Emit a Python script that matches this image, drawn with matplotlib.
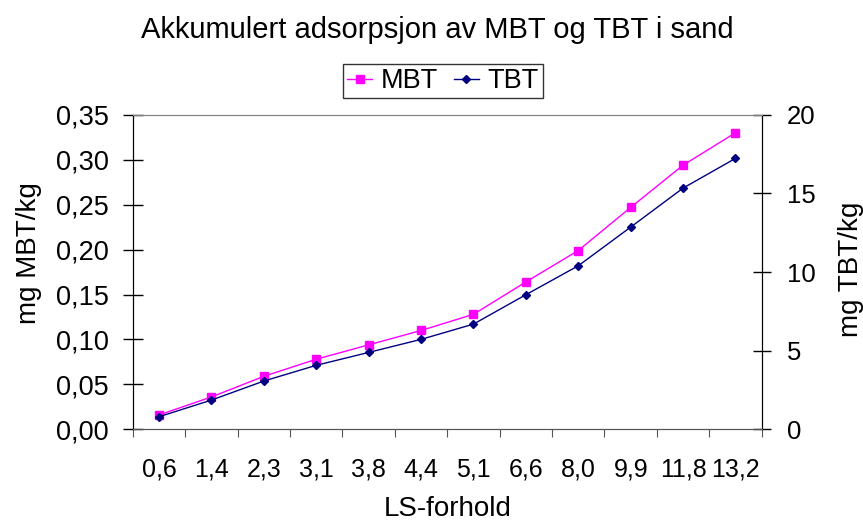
import numpy as np
import matplotlib.pyplot as plt
from matplotlib.ticker import FuncFormatter, FixedLocator

plt.rcParams['font.family'] = ['Liberation Sans', 'DejaVu Sans']

# data
ls_labels = ['0,6', '1,4', '2,3', '3,1', '3,8', '4,4', '5,1', '6,6', '8,0', '9,9', '11,8', '13,2']
mbt = [0.016, 0.036, 0.059, 0.078, 0.094, 0.110, 0.128, 0.164, 0.199, 0.247, 0.294, 0.330]
tbt = [0.80, 1.86, 3.07, 4.07, 4.89, 5.72, 6.69, 8.56, 10.40, 12.86, 15.34, 17.23]

x = np.arange(len(ls_labels))

fig = plt.figure(figsize=(8.63, 5.22), dpi=100)
ax = fig.add_axes([0.154, 0.1776, 0.7286, 0.6024])
ax2 = ax.twinx()

l1, = ax.plot(x, mbt, color='#ff00ff', marker='s', markersize=6, linewidth=1.0, label='MBT')
l2, = ax2.plot(x, tbt, color='#000080', marker='D', markersize=4, linewidth=1.0, label='TBT')

ax.set_xlim(-0.5, len(x) - 0.5)
ax.set_ylim(0, 0.35)
ax2.set_ylim(0, 20)

ax.yaxis.set_major_locator(FixedLocator(np.arange(0, 0.351, 0.05)))
ax.yaxis.set_major_formatter(FuncFormatter(lambda v, p: ('%.2f' % v).replace('.', ',')))
ax2.yaxis.set_major_locator(FixedLocator([0, 5, 10, 15, 20]))

# x ticks between categories, labels in the middle
ax.set_xticks(np.arange(-0.5, len(x), 1.0))
ax.set_xticklabels([])
ax.set_xticks(x, minor=True)
ax.set_xticklabels(ls_labels, minor=True)
ax.tick_params(axis='x', which='major', direction='out', length=6, color='#555555')
ax.tick_params(axis='x', which='minor', length=0, pad=20, labelsize=18)

ax.tick_params(axis='y', direction='inout', length=14, width=1, labelsize=19.5, pad=10.5)
ax2.tick_params(axis='y', direction='inout', length=13, width=1, labelsize=18.5, pad=11.5)

for a in (ax, ax2):
    a.spines['top'].set_color('#808080')
    a.spines['left'].set_color('black')
    a.spines['right'].set_color('black')
    a.spines['bottom'].set_color('#555555')

ax.set_ylabel('mg MBT/kg', fontsize=20)
ax.yaxis.set_label_coords(-0.145, 0.56)
ax2.set_ylabel('mg TBT/kg', fontsize=20)
ax2.yaxis.set_label_coords(1.121, 0.51)
ax.set_xlabel('LS-forhold', fontsize=20, labelpad=11)

fig.text(0.507, 0.9266, 'Akkumulert adsorpsjon av MBT og TBT i sand', ha='center', va='baseline', fontsize=21)

leg = fig.legend([l1, l2], ['MBT', 'TBT'], loc='center', bbox_to_anchor=(0.513, 0.844), ncol=2,
                 fontsize=19.5, frameon=True, fancybox=False, edgecolor='black',
                 handlelength=0.95, handletextpad=0.3, columnspacing=0.58, borderpad=0.15,
                 borderaxespad=0)
leg.get_frame().set_linewidth(1.0)

plt.savefig('out.png', dpi=100)
